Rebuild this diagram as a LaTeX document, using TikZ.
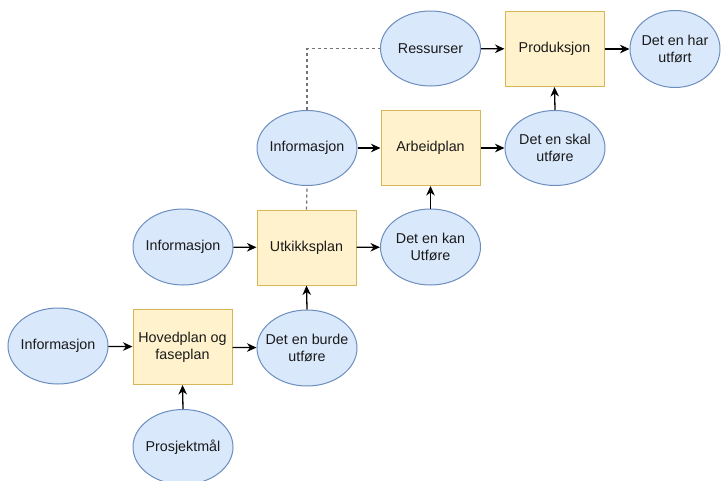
\documentclass[tikz,border=0pt]{standalone}
\usepackage{fontspec}
\setmainfont{Liberation Sans}
\usetikzlibrary{shapes.geometric,arrows.meta}
\definecolor{ellfill}{HTML}{DAE8FC}
\definecolor{elldraw}{HTML}{6C8EBF}
\definecolor{boxfill}{HTML}{FFF2CC}
\definecolor{boxdraw}{HTML}{D6B656}
\definecolor{txt}{HTML}{1A1A1A}
\tikzset{
  lbl/.style={font=\fontsize{14.3}{17.2}\selectfont, text=txt, align=center},
  ell/.style={ellipse, draw=elldraw, fill=ellfill, line width=1pt, minimum width=100pt, minimum height=76pt, inner sep=0pt},
  pbox/.style={rectangle, draw=boxdraw, fill=boxfill, line width=1pt, minimum width=99pt, minimum height=75pt, inner sep=0pt, lbl},
  arr/.style={-{Stealth[length=9.5pt,width=8.5pt,inset=3pt]}, line width=1.3pt, black},
  dash line/.style={draw=black!55, line width=1.3pt, dash pattern=on 3pt off 3pt},
}
\begin{document}
\begin{tikzpicture}[x=1pt,y=-1pt]
\useasboundingbox (0,0) rectangle (722,480);
% nodes
\node[ell, label={[lbl]center:Informasjon}] (info1) at (58,346) {};
\node[pbox] (hoved) at (182.5,347) {Hovedplan og\\faseplan};
\node[ell, label={[lbl]center:Det en burde\\utføre}] (burde) at (307,348) {};
\node[ell, minimum height=75pt, label={[lbl]center:Prosjektmål}] (prosj) at (183,447) {};
\node[ell, label={[lbl]center:Informasjon}] (info2) at (183,247) {};
\node[pbox] (utkikk) at (306.5,247.5) {Utkikksplan};
\node[ell, label={[lbl]center:Det en kan\\Utføre}] (kan) at (430.5,247) {};
\node[ell, minimum height=75pt, label={[lbl]center:Informasjon}] (info3) at (307,148) {};
\node[pbox] (arbeid) at (430.5,148) {Arbeidplan};
\node[ell, minimum height=75pt, label={[lbl]center:Det en skal\\utføre}] (skal) at (555,148) {};
\node[ell, minimum height=75pt, label={[lbl]center:Ressurser}] (ress) at (430.5,48.5) {};
\node[pbox] (prod) at (554.5,49) {Produksjon};
\node[ell, minimum width=90pt, minimum height=77pt, label={[lbl]center:Det en har\\utført}] (har) at (675,49) {};
% connectors
\draw[arr] (info1) -- (hoved);
\draw[arr] (hoved) -- (burde);
\draw[arr] (prosj.north) -- (hoved.south);
\draw[arr] (burde.north) -- (utkikk.south);
\draw[arr] (info2) -- (utkikk);
\draw[arr] (utkikk) -- (kan);
\draw[arr] (kan.north) -- (arbeid.south);
\draw[dash line] (utkikk.north) -- (info3.south);
\draw[arr] (info3) -- (arbeid);
\draw[arr] (arbeid) -- (skal);
\draw[arr] (skal.north) -- (prod.south);
\draw[dash line] (info3.north) |- (ress.west);
\draw[arr] (ress) -- (prod);
\draw[arr] (prod) -- (har);
\end{tikzpicture}
\end{document}
